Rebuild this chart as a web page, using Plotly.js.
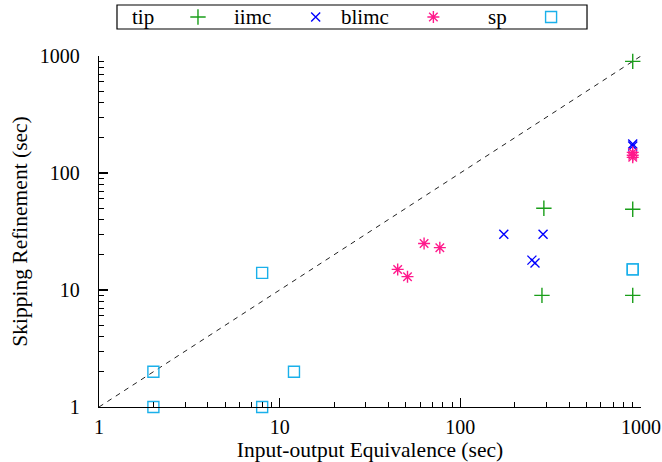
<!DOCTYPE html>
<html><head><meta charset="utf-8">
<script src="https://cdn.plot.ly/plotly-3.0.1.min.js"></script>
<style>html,body{margin:0;padding:0;background:#fff}</style>
</head><body>
<div id="chart" style="width:662px;height:462px"></div>
<script>
// ---- data ----
var seriesNames = ["tip", "iimc", "blimc", "sp"];
var tipX = [900, 900, 900, 290, 283];
var tipY = [900, 49, 9, 50, 9];
var iimcX = [900, 900, 174, 287, 249, 259];
var iimcY = [177, 170, 30, 30, 18, 17];
var blimcX = [900, 900, 900, 63, 77, 45, 51];
var blimcY = [150, 142, 136, 25, 23, 15, 13];
var spX = [900, 900, 2, 2, 8, 8, 12];
var spY = [15, 15, 2, 1, 14, 1, 2];
var diagX = [1, 1000];
var diagY = [1, 1000];
var majorTicks = [1, 10, 100, 1000];
var majorText = ["1", "10", "100", "1000"];
var minorTicks = [2,3,4,5,6,7,8,9,20,30,40,50,60,70,80,90,200,300,400,500,600,700,800,900];

var colors = ["#1a9e1a", "#0000ff", "#ff1a8c", "#1ab0ea"];
var symbols = ["cross-thin-open", "x-thin-open", "asterisk-open", "square-open"];
var sizes = [11, 9, 10, 11];
var xs = [tipX, iimcX, blimcX, spX];
var ys = [tipY, iimcY, blimcY, spY];

var FONT = "Liberation Serif, DejaVu Serif, serif";
var traces = [];
traces.push({x: diagX, y: diagY, mode: "lines", type: "scatter", showlegend: false,
  line: {color: "#222", width: 1, dash: "5px,5px"}, hoverinfo: "skip"});
for (var i = 0; i < 4; i++) {
  traces.push({x: xs[i], y: ys[i], mode: "markers", type: "scatter", name: seriesNames[i],
    showlegend: false, cliponaxis: false,
    marker: {symbol: symbols[i], size: sizes[i], color: colors[i],
             line: {color: colors[i], width: 1.4}}});
}
// legend key samples on an overlay axis (key index -> position)
for (var k = 0; k < 4; k++) {
  traces.push({x: [k], y: [0.75], xaxis: "x2", yaxis: "y2", mode: "markers", type: "scatter",
    showlegend: false, cliponaxis: false, hoverinfo: "skip",
    marker: {symbol: symbols[k], size: sizes[k], color: colors[k],
             line: {color: colors[k], width: 1.4}}});
}

var annotations = [];
for (var j = 0; j < 4; j++) {
  annotations.push({text: seriesNames[j], xref: "x2", yref: "y2", x: j - 0.36, y: 0.75,
    xanchor: "right", yanchor: "middle", showarrow: false,
    font: {family: FONT, size: 21, color: "#000"}});
}

var axCommon = {type: "log", showgrid: false, zeroline: false, showline: true,
  linecolor: "#000", linewidth: 1.2, ticks: "inside", ticklen: 9, tickwidth: 1.2,
  tickcolor: "#000", tickmode: "array", tickvals: majorTicks, ticktext: majorText,
  tickfont: {family: FONT, size: 20, color: "#000"},
  minor: {ticks: "inside", ticklen: 5, tickwidth: 1, tickcolor: "#000", tickvals: minorTicks},
  mirror: false};

var layout = {
  width: 662, height: 462,
  margin: {l: 99, r: 21, t: 4, b: 55, pad: 0},
  paper_bgcolor: "#fff", plot_bgcolor: "#fff",
  showlegend: false,
  xaxis: Object.assign({}, axCommon, {range: [0, 3], domain: [0, 1], ticklabelstandoff: 2,
    title: {text: "Input-output Equivalence (sec)", font: {family: FONT, size: 21.5, color: "#000"}, standoff: 0}}),
  yaxis: Object.assign({}, axCommon, {range: [0, 3], domain: [0, 0.871], ticklabelstandoff: 14,
    title: {text: "Skipping Refinement (sec)", font: {family: FONT, size: 21.5, color: "#000"}, standoff: 6}}),
  xaxis2: {domain: [0, 1], range: [-0.841, 3.764], visible: false, anchor: "y2", fixedrange: true},
  yaxis2: {domain: [0.871, 1], range: [0, 1], visible: false, anchor: "x2", fixedrange: true},
  shapes: [{type: "rect", xref: "paper", yref: "paper", x0: 0.0332, x1: 0.9004, y0: 0.938, y1: 0.9975,
    line: {color: "#000", width: 1.2}, fillcolor: "rgba(0,0,0,0)"}],
  annotations: annotations
};
Plotly.newPlot("chart", traces, layout, {staticPlot: true});
</script>
</body></html>
